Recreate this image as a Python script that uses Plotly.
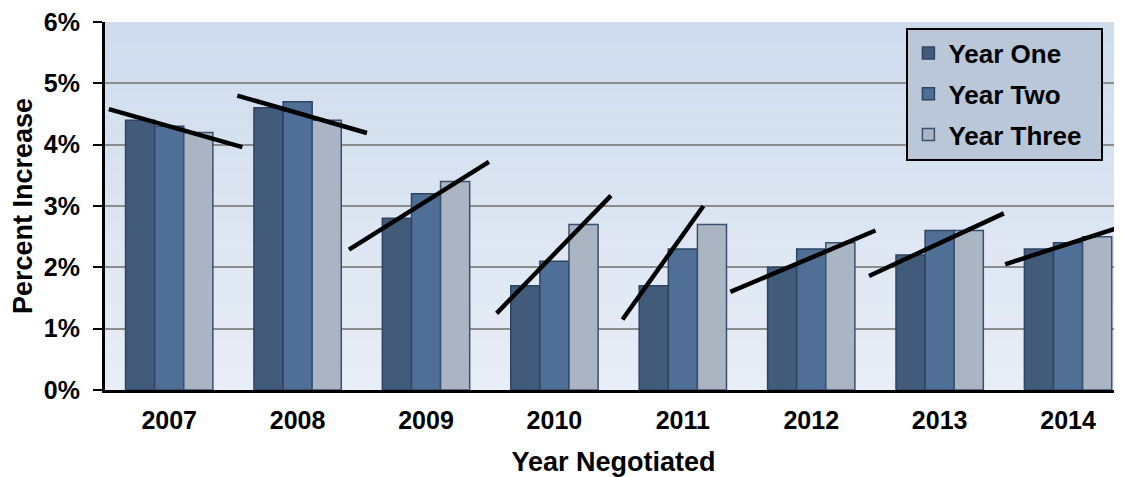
import plotly.graph_objects as go

years = ['2007', '2008', '2009', '2010', '2011', '2012', '2013', '2014']
year_one = [4.4, 4.6, 2.8, 1.7, 1.7, 2.0, 2.2, 2.3]
year_two = [4.3, 4.7, 3.2, 2.1, 2.3, 2.3, 2.6, 2.4]
year_three = [4.2, 4.4, 3.4, 2.7, 2.7, 2.4, 2.6, 2.5]

# hand drawn trend lines: offset from group centre (in groups) and value (%)
trend_x0 = [-0.47, -0.47, -0.60, -0.45, -0.47, -0.63, -0.55, -0.49]
trend_y0 = [4.58, 4.80, 2.29, 1.25, 1.15, 1.60, 1.86, 2.05]
trend_x1 = [0.57, 0.54, 0.49, 0.44, 0.16, 0.50, 0.50, 0.50]
trend_y1 = [3.96, 4.19, 3.72, 3.17, 3.00, 2.60, 2.88, 2.72]

y_ticks = [0, 1, 2, 3, 4, 5, 6]

fnt = 'Liberation Sans, Arial, sans-serif'
xs = list(range(len(years)))
pad = '&nbsp;&nbsp;'

fig = go.Figure()
fig.add_trace(go.Bar(name='<b>Year One</b>' + pad, x=xs, y=year_one, legendgroup='a',
                     marker=dict(color='#435b7b', line=dict(color='#2e4463', width=1.5))))
fig.add_trace(go.Bar(name='<b>Year Two</b>' + pad, x=xs, y=year_two, legendgroup='b',
                     marker=dict(color='#506f96', line=dict(color='#2e4463', width=1.5))))
fig.add_trace(go.Bar(name='<b>Year Three</b>' + pad, x=xs, y=year_three, legendgroup='c',
                     marker=dict(color='#abb4c2', line=dict(color='#3a5070', width=1.5))))

for i in xs:
    fig.add_trace(go.Scatter(x=[i + trend_x0[i], i + trend_x1[i]],
                             y=[trend_y0[i], trend_y1[i]],
                             mode='lines', line=dict(color='black', width=4.5),
                             showlegend=False, hoverinfo='skip', cliponaxis=True))

# background gradient
n = 30
top = (207, 220, 237)
bot = (232, 238, 247)
for k in range(n):
    t = k / (n - 1)
    c = tuple(int(top[j] + (bot[j] - top[j]) * t) for j in range(3))
    fig.add_shape(type='rect', xref='x domain', yref='y domain',
                  x0=0, x1=1, y0=1 - (k + 1) / n, y1=1 - k / n,
                  fillcolor='rgb(%d,%d,%d)' % c, line_width=0, layer='below')

fig.update_layout(
    width=1114, height=469,
    margin=dict(l=97, r=0, t=11, b=87),
    paper_bgcolor='white',
    plot_bgcolor='#dce5f1',
    barmode='group', bargap=0.32, bargroupgap=0,
    font=dict(family=fnt, color='black'),
    legend=dict(x=0.788, y=0.985, xanchor='left', yanchor='top',
                bgcolor='#b9c7d9', bordercolor='black', borderwidth=2,
                font=dict(size=26, family=fnt, color='black'),
                itemwidth=30, tracegroupgap=4),
    showlegend=True,
)
fig.update_xaxes(
    range=[-0.5, 7.42],
    tickvals=xs, ticktext=['<b>%s</b>' % y for y in years],
    tickfont=dict(size=25, family=fnt),
    showline=True, linecolor='black', linewidth=3,
    showgrid=False, ticks='', zeroline=False, ticklabelstandoff=6,
    title=dict(text='<b>Year Negotiated</b>', font=dict(size=27, family=fnt), standoff=22),
)
fig.update_yaxes(
    range=[0, 6],
    tickvals=y_ticks, ticktext=['<b>%d%%</b>' % v for v in y_ticks],
    tickfont=dict(size=25, family=fnt),
    showline=True, linecolor='black', linewidth=3,
    ticks='outside', ticklen=9, tickwidth=2, tickcolor='black',
    ticklabelstandoff=8, ticklabeloverflow='allow',
    showgrid=True, gridcolor='#8c8c8c', gridwidth=2, zeroline=False,
    title=dict(text='<b>Percent Increase</b>', font=dict(size=27, family=fnt), standoff=6),
)

fig.write_html("out.html")
